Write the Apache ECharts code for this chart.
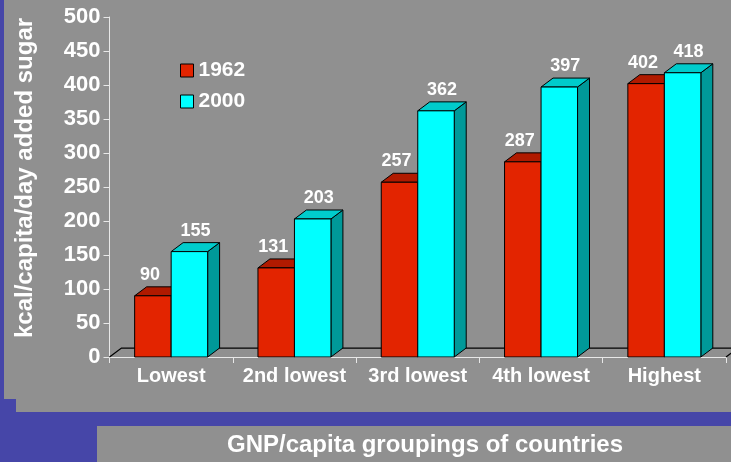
<!DOCTYPE html>
<html>
<head>
<meta charset="utf-8">
<script src="https://cdn.jsdelivr.net/npm/echarts@6/dist/echarts.min.js"></script>
<style>
html,body{margin:0;padding:0;background:#4646a8;}
#chart{width:731px;height:462px;}
</style>
</head>
<body>
<div id="chart"></div>
<script>
const categories = ['Lowest', '2nd lowest', '3rd lowest', '4th lowest', 'Highest'];
const values1962 = [90, 131, 257, 287, 402];
const values2000 = [155, 203, 362, 397, 418];
const seriesNames = ['1962', '2000'];
const yMin = 0, yMax = 500, yStep = 50;
const xTitle = 'GNP/capita groupings of countries';
const yTitle = 'kcal/capita/day added sugar';

const FONT = '"Liberation Sans", Arial, sans-serif';
const DEPTH = 0.097; // depth as fraction of category width

function barRenderer(front, topC, sideC, side, labelShift) {
  return function (params, api) {
    const idx = api.value(0), v = api.value(1);
    const top = api.coord([idx, v]);
    const base = api.coord([idx, 0]);
    const catW = api.size([1, 0])[0];
    const bw = catW * 0.296;
    const x0 = side < 0 ? top[0] - bw : top[0];
    const x1 = x0 + bw;
    const yT = top[1], yB = base[1];
    const dx = catW * DEPTH, dy = dx * 0.75;
    const stroke = {stroke: '#000', lineWidth: 1, lineJoin: 'round'};
    return {
      type: 'group',
      children: [
        {type: 'polygon', shape: {points: [[x1, yB], [x1, yT], [x1 + dx, yT - dy], [x1 + dx, yB - dy]]},
          style: Object.assign({fill: sideC}, stroke)},
        {type: 'polygon', shape: {points: [[x0, yT], [x1, yT], [x1 + dx, yT - dy], [x0 + dx, yT - dy]]},
          style: Object.assign({fill: topC}, stroke)},
        {type: 'rect', shape: {x: x0, y: yT, width: bw, height: yB - yT},
          style: Object.assign({fill: front}, stroke)},
        {type: 'text', x: (x0 + x1) / 2 + labelShift, y: yT - dy - 3,
          style: {text: String(v), fill: '#fff', font: 'bold 18px ' + FONT,
            align: 'center', verticalAlign: 'bottom'}}
      ]
    };
  };
}

const chart = echarts.init(document.getElementById('chart'));
chart.setOption({
  backgroundColor: '#4646a8',
  animation: false,
  graphic: [
    {type: 'rect', shape: {x: 4, y: 0, width: 727, height: 399}, style: {fill: '#909090'}, z: -10},
    {type: 'rect', shape: {x: 16, y: 0, width: 715, height: 412}, style: {fill: '#909090'}, z: -10},
    {type: 'rect', shape: {x: 97, y: 426, width: 634, height: 36}, style: {fill: '#909090'}, z: -10},
    {type: 'text', x: 425, y: 445, z: 10,
      style: {text: xTitle, fill: '#fff', font: 'bold 24px ' + FONT, align: 'center', verticalAlign: 'middle'}},
    {type: 'text', x: 25, y: 178, rotation: Math.PI / 2, z: 10,
      style: {text: yTitle, fill: '#fff', font: 'bold 24px ' + FONT, align: 'center', verticalAlign: 'middle'}}
  ],
  grid: {left: 109.5, right: 5, top: 17, bottom: 105, containLabel: false},
  legend: {
    data: seriesNames, orient: 'vertical', left: 175, top: 55, itemGap: 10,
    icon: 'rect', itemWidth: 13, itemHeight: 13,
    itemStyle: {borderColor: '#000', borderWidth: 1},
    textStyle: {color: '#fff', fontSize: 21, fontWeight: 'bold', fontFamily: FONT}
  },
  xAxis: {
    type: 'category', data: categories, boundaryGap: true,
    axisLine: {lineStyle: {color: '#e8e8e8', width: 1}},
    axisTick: {show: true, length: 6, lineStyle: {color: '#e8e8e8'}},
    axisLabel: {color: '#fff', fontSize: 20, fontWeight: 'bold', fontFamily: FONT, margin: 9, interval: 0},
    splitLine: {show: false}
  },
  yAxis: {
    type: 'value', min: yMin, max: yMax, interval: yStep,
    axisLine: {show: true, lineStyle: {color: '#e8e8e8', width: 1}},
    axisTick: {show: true, length: 6, lineStyle: {color: '#e8e8e8'}},
    axisLabel: {color: '#fff', fontSize: 22, fontWeight: 'bold', fontFamily: FONT, margin: 9},
    splitLine: {show: false}
  },
  series: [
    {
      type: 'custom', name: 'floor', z: 1, clip: false, silent: true,
      data: [[0, 0]],
      renderItem: function (params, api) {
        const cs = params.coordSys;
        const catW = api.size([1, 0])[0];
        const dx = catW * DEPTH, dy = dx * 0.75;
        const yB = cs.y + cs.height;
        return {
          type: 'polyline',
          shape: {points: [[cs.x, yB], [cs.x + dx, yB - dy], [cs.x + cs.width + dx, yB - dy], [cs.x + cs.width, yB]]},
          style: {stroke: '#000', lineWidth: 1.3, fill: null}
        };
      }
    },
    {
      type: 'custom', name: seriesNames[0], z: 2, clip: false,
      itemStyle: {color: '#e32400', borderColor: '#000', borderWidth: 1},
      data: values1962.map((v, i) => [i, v]),
      renderItem: barRenderer('#e32400', '#b01a00', '#8a1400', -1, -3)
    },
    {
      type: 'custom', name: seriesNames[1], z: 3, clip: false,
      itemStyle: {color: '#00ffff', borderColor: '#000', borderWidth: 1},
      data: values2000.map((v, i) => [i, v]),
      renderItem: barRenderer('#00ffff', '#00cccc', '#009999', 1, 6)
    }
  ]
});
</script>
</body>
</html>
